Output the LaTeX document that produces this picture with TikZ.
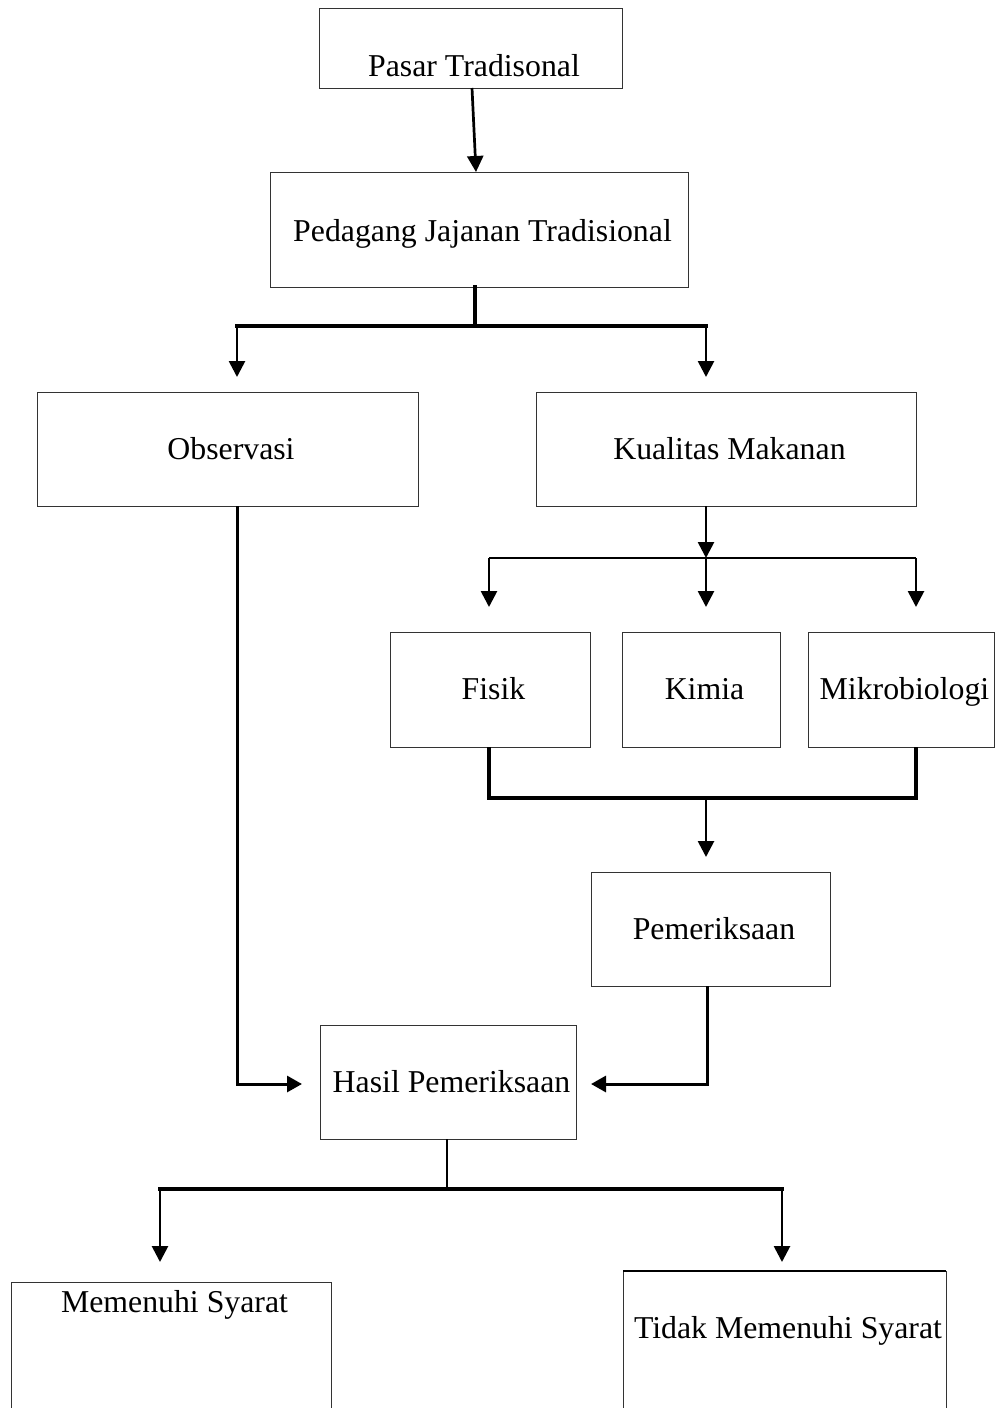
\documentclass[tikz,border=0pt]{standalone}
\usepackage{fontspec}
\setmainfont{Liberation Serif}
\usetikzlibrary{arrows.meta,calc}
\begin{document}
\begin{tikzpicture}[x=1pt,y=-1pt,
  box/.style={draw=black!80, line width=1pt, rectangle, inner sep=0pt, outer sep=0pt},
  lbl/.style={anchor=base, inner sep=0pt, font=\fontsize{31.8pt}{38pt}\selectfont},
  arr/.style={line width=2.7pt, -{Triangle[width=16pt,length=16pt]}},
  arrthick/.style={line width=3pt, -{Triangle[width=16pt,length=15pt]}},
  bar/.style={line width=3.8pt, line cap=rect},
  plain/.style={line width=2.5pt},
  thin/.style={line width=2pt}]
\clip (0,0) rectangle (996,1408);
\fill[white] (0,0) rectangle (996,1408);
% boxes
\node[box, minimum width=303pt, minimum height=80pt] (pasar) at (470.5,48) {};
\node[box, minimum width=418pt, minimum height=115pt] (pedagang) at (479,229.5) {};
\node[box, minimum width=381pt, minimum height=114pt] (obs) at (227.5,449) {};
\node[box, minimum width=380pt, minimum height=114pt] (kual) at (726,449) {};
\node[box, minimum width=200pt, minimum height=115pt] (fisik) at (490,689.5) {};
\node[box, minimum width=158pt, minimum height=115pt] (kimia) at (701,689.5) {};
\node[box, minimum width=186pt, minimum height=115pt] (mikro) at (901,689.5) {};
\node[box, minimum width=239pt, minimum height=114pt] (pem) at (710.5,929) {};
\node[box, minimum width=256pt, minimum height=114pt] (hasil) at (448,1082) {};
\node[box, minimum width=320pt, minimum height=138pt] (ms) at (171,1351) {};
\node[box, minimum width=323pt, minimum height=149pt] (tms) at (784.5,1345.5) {};
\draw[line width=2.2pt] (tms.north west) -- (tms.north east);
% labels
\node[lbl] (pasart) at (474,76) {Pasar Tradisonal};
\node[lbl] (pedagangt) at (482.5,241) {Pedagang Jajanan Tradisional};
\node[lbl] (obst) at (231,459) {Observasi};
\node[lbl] (kualt) at (729.5,459) {Kualitas Makanan};
\node[lbl] (fisikt) at (493.5,699) {Fisik};
\node[lbl] (kimiat) at (704.5,699) {Kimia};
\node[lbl] (mikrot) at (904.5,699) {Mikrobiologi};
\node[lbl] (pemt) at (714,939) {Pemeriksaan};
\node[lbl] (hasilt) at (451.5,1092) {Hasil Pemeriksaan};
\node[lbl] (mst) at (174.5,1312) {Memenuhi Syarat};
\node[lbl] (tmst) at (788,1338) {Tidak Memenuhi Syarat};
% junction coordinates
\coordinate (j1) at (475,326);
\coordinate (bl) at (237,326);
\coordinate (br) at (706,326);
\coordinate (j2) at (706,558);
\coordinate (f2) at (489,558);
\coordinate (m2) at (916,558);
\coordinate (j3) at (706,798);
\coordinate (j4) at (707,1084);
\coordinate (j5) at (237,1084);
\coordinate (j6) at (447,1189);
\coordinate (hl) at (160,1189);
\coordinate (hr) at (782,1189);
% connectors
\draw[arr] ($(pasar.south)+(1.5,0)$) -- ($(pedagang.north)+(-3,0)$);
\draw[bar] (pedagang.south -| j1) -- (j1);
\draw[bar] (bl) -- (br);
\draw[arr, shorten >=15pt] (bl) -- (bl |- obs.north);
\draw[arr, shorten >=15pt] (br) -- (br |- kual.north);
\draw[arr] (kual.south -| j2) -- (j2);
\draw[thin] (f2) -- (m2);
\draw[arr, shorten >=25pt] (f2) -- (f2 |- fisik.north);
\draw[arr, shorten >=25pt] (j2) -- (j2 |- kimia.north);
\draw[arr, shorten >=25pt] (m2) -- (m2 |- mikro.north);
\draw[bar, line cap=butt, line join=miter] (fisik.south -| f2) -- (f2 |- j3) -- (m2 |- j3) -- (mikro.south -| m2);
\draw[arr, shorten >=15pt] (j3) -- (j3 |- pem.north);
\draw[arrthick, line join=miter, shorten >=15pt] (pem.south -| j4) -- (j4) -- (hasil.east |- j4);
\draw[arrthick, line join=miter, shorten >=18pt] (obs.south -| j5) -- (j5) -- (hasil.west |- j5);
\draw[plain] (hasil.south -| j6) -- (j6);
\draw[bar] (hl) -- (hr);
\draw[arr, shorten >=20pt] (hl) -- (hl |- ms.north);
\draw[arr, shorten >=9pt] (hr) -- (hr |- tms.north);
\end{tikzpicture}
\end{document}
